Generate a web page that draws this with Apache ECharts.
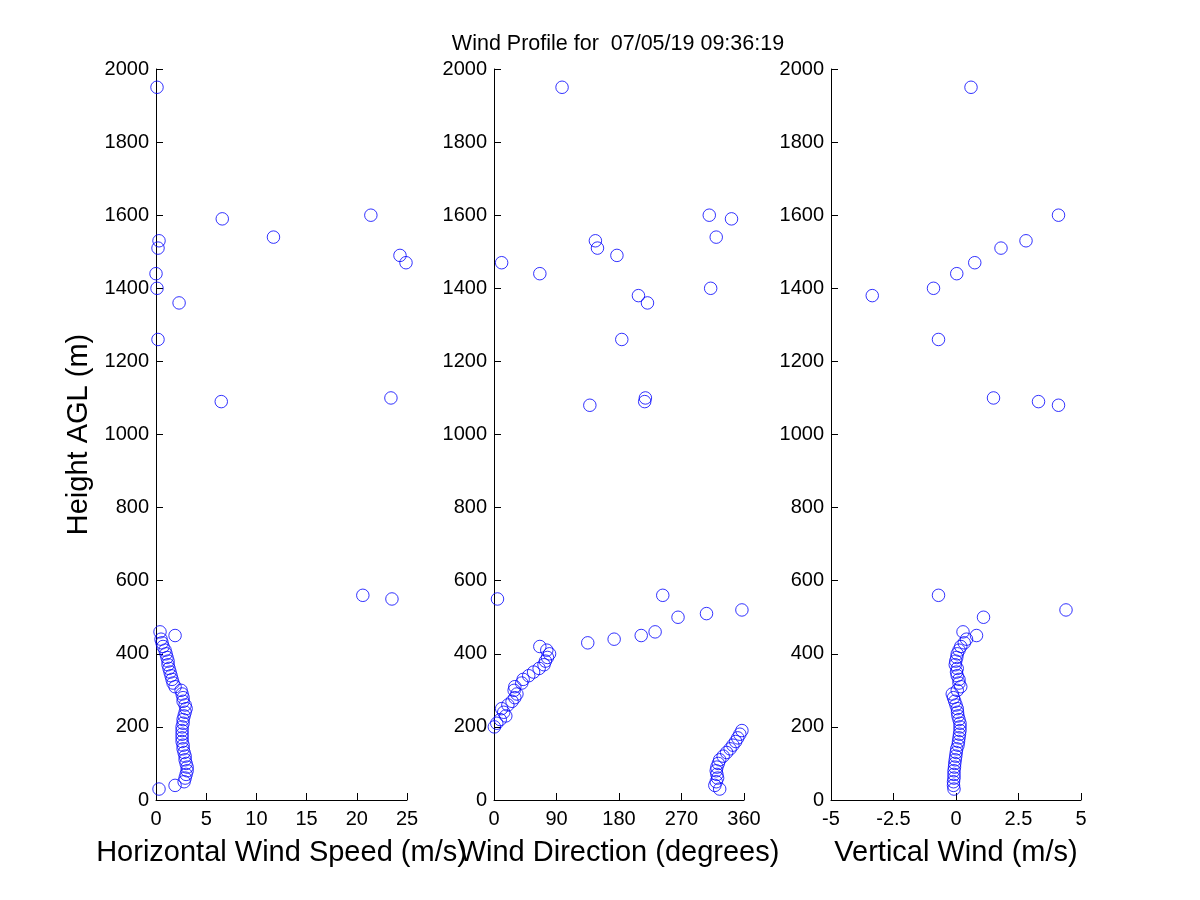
<!DOCTYPE html>
<html>
<head>
<meta charset="utf-8">
<script src="https://cdn.jsdelivr.net/npm/echarts@6/dist/echarts.min.js"></script>
<style>
html,body{margin:0;padding:0;background:#fff;}
#chart{width:1200px;height:900px;}
</style>
</head>
<body>
<div id="chart"></div>
<script>
var titleText = 'Wind Profile for  07/05/19 09:36:19';

var heights = [30,40,50,60,70,80,90,100,110,120,130,140,150,160,170,180,190,200,210,220,230,240,250,260,270,280,290,300,310,320,330,340,350,360,370,380,390,400,410,420,430,440,450,460,500,510,520,550,560,1080,1090,1100,1260,1360,1380,1400,1440,1470,1490,1510,1530,1540,1590,1600,1950];

var speed = [0.3,1.9,2.8,2.9,3.0,3.1,3.1,3.0,2.9,2.9,2.8,2.7,2.7,2.6,2.6,2.6,2.6,2.6,2.7,2.7,2.8,2.9,3.0,2.9,2.7,2.7,2.6,2.5,1.9,1.7,1.6,1.5,1.4,1.3,1.2,1.2,1.1,1.0,0.9,0.7,0.6,0.5,1.9,0.4,null,null,null,23.5,20.6,null,6.5,23.4,0.2,2.3,null,0.1,0.0,24.9,24.3,0.2,0.3,11.7,6.6,21.4,0.1];

var direction = [325,318,320,322,321,320,321,323,325,330,335,340,344,348,351,354,357,0.5,4,9,17,14,11,20,26,30,33,29,30,40,42,50,57,65,72,74,77,80,76,66,135,173,212,232,265,306,357,5,243,138,217,218,184,221,208,312,66,11,177,149,146,320,342,310,98];

var vertical = [-0.08,-0.1,-0.1,-0.08,-0.08,-0.08,-0.06,-0.05,-0.03,-0.01,0.01,0.03,0.08,0.1,0.12,0.14,0.16,0.16,0.16,0.12,0.08,0.06,0.05,0.0,-0.05,-0.1,-0.15,0.05,0.19,0.12,0.12,0.05,0.02,0.05,-0.03,-0.01,0.03,0.05,0.12,0.19,0.33,0.42,0.82,0.28,1.1,null,4.4,null,-0.7,4.1,3.3,1.5,-0.7,null,-3.35,-0.9,0.03,0.75,null,1.8,2.8,null,null,4.1,0.6];

var speedTicks = {min:0, max:25, interval:5};
var dirTicks = {min:0, max:360, interval:90};
var vertTicks = {min:-5, max:5, interval:2.5};
var heightTicks = {min:0, max:2000, interval:200};

var xNames = ['Horizontal Wind Speed (m/s)', 'Wind Direction (degrees)', 'Vertical Wind (m/s)'];
var yName = 'Height AGL (m)';

function pairs(vals){
  var out = [];
  for (var i = 0; i < heights.length; i++) {
    if (vals[i] !== null && vals[i] !== undefined) out.push([vals[i], heights[i]]);
  }
  return out;
}

var FONT = 'Liberation Sans, Arial, Helvetica, sans-serif';
var black = '#000';
function plain(v){ return String(v); }

function xAxis(idx, t, name){
  return {
    type:'value', gridIndex:idx, min:t.min, max:t.max, interval:t.interval,
    splitLine:{show:false},
    axisLine:{show:true, onZero:false, lineStyle:{color:black, width:1}},
    axisTick:{show:true, inside:true, length:7, lineStyle:{color:black, width:1}},
    axisLabel:{color:black, fontSize:20, fontFamily:FONT, margin:9, showMinLabel:true, showMaxLabel:true, formatter:plain},
    name:name, nameLocation:'middle', nameGap:38,
    nameTextStyle:{color:black, fontSize:29, fontFamily:FONT}
  };
}
function yAxis(idx, name){
  return {
    type:'value', gridIndex:idx, min:heightTicks.min, max:heightTicks.max, interval:heightTicks.interval,
    splitLine:{show:false},
    axisLine:{show:true, onZero:false, lineStyle:{color:black, width:1}},
    axisTick:{show:true, inside:true, length:7, lineStyle:{color:black, width:1}},
    axisLabel:{color:black, fontSize:20, fontFamily:FONT, margin:7, showMinLabel:true, showMaxLabel:true, formatter:plain},
    name:name || '', nameLocation:'middle', nameGap:63,
    nameTextStyle:{color:black, fontSize:29, fontFamily:FONT}
  };
}
function series(idx, vals){
  return {
    type:'scatter', xAxisIndex:idx, yAxisIndex:idx, data:pairs(vals),
    symbol:'circle', symbolSize:12.5, clip:false,
    itemStyle:{color:'rgba(0,0,0,0)', borderColor:'#0000ff', borderWidth:1},
    emphasis:{disabled:true}, silent:true
  };
}

var chart = echarts.init(document.getElementById('chart'), null, {renderer:'canvas'});
chart.setOption({
  backgroundColor:'#ffffff',
  animation:false,
  graphic:[{
    type:'text', x:618, y:44,
    style:{text:titleText, fill:black, font:'21.5px ' + FONT, textAlign:'center', textVerticalAlign:'middle'}
  }],
  grid:[
    {left:156, top:69, width:251, height:731},
    {left:494, top:69, width:250, height:731},
    {left:831, top:69, width:250, height:731}
  ],
  xAxis:[xAxis(0, speedTicks, xNames[0]), xAxis(1, dirTicks, xNames[1]), xAxis(2, vertTicks, xNames[2])],
  yAxis:[yAxis(0, yName), yAxis(1), yAxis(2)],
  series:[series(0, speed), series(1, direction), series(2, vertical)]
});
</script>
</body>
</html>
